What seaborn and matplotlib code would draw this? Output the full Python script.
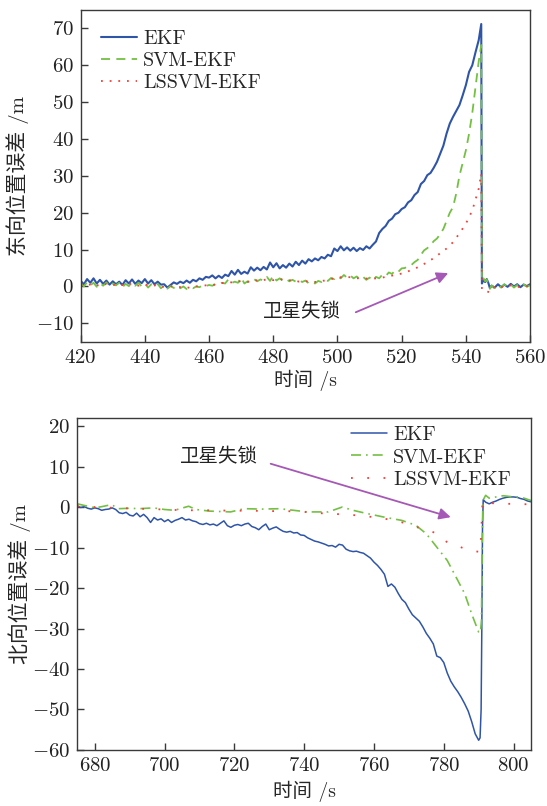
import numpy as np
import pandas as pd
import matplotlib
matplotlib.use("Agg")
import matplotlib.pyplot as plt
import seaborn as sns

# ---------------- East position error (upper panel) ----------------
east_t_pre = list(range(420, 545)) + [544.8]
east_t_post = [545.0, 545.5, 546.0, 546.5, 547.0, 547.5, 548, 549, 550, 551,
               552, 553, 554, 555, 556, 557, 558, 559, 560]

east_ekf_pre = [
    1.5, 0.6, 2.0, 1.0, 2.2, 0.8, 1.8, 0.7, 1.6, 0.5,
    1.4, 0.6, 1.3, 0.4, 1.7, 0.8, 1.9, 0.7, 1.6, 0.9,
    2.0, 0.8, 1.7, 0.6, 1.3, 0.5, 0.6, -0.3, 0.4, 1.1,
    0.7, 1.3, 0.9, 1.6, 1.0, 1.8, 1.4, 2.2, 1.8, 2.6,
    2.4, 3.0, 2.2, 2.9, 2.3, 3.2, 2.8, 4.2, 3.2, 4.5,
    3.4, 4.0, 3.5, 5.2, 4.3, 5.1, 4.4, 5.3, 4.6, 6.5,
    5.2, 6.3, 4.9, 5.8, 5.1, 6.2, 5.4, 6.7, 5.8, 7.0,
    6.2, 7.4, 6.8, 7.6, 7.1, 8.0, 7.6, 8.6, 8.2, 10.3,
    9.6, 10.9, 9.8, 10.6, 9.7, 10.5, 9.6, 10.4, 9.9, 10.9,
    10.3, 11.3, 12.2, 14.5, 15.6, 16.4, 17.8, 18.4, 19.6, 20.0,
    21.0, 21.5, 22.8, 23.4, 24.8, 25.6, 27.8, 28.6, 30.2, 30.8,
    32.2, 33.8, 36.0, 38.2, 41.5, 44.2, 46.0, 47.6, 49.2, 51.8,
    54.6, 58.2, 60.0, 63.5, 66.8, 71.2,
]
east_ekf_post = [0.8, 1.8, 1.2, 2.0, 1.0, -0.5, 0.2, -0.3, 0.6, -0.2,
                 0.5, -0.1, 0.7, 0.0, 0.6, -0.2, 0.5, 0.1, 0.6]

east_svm_pre = [
    0.8, 0.0, 1.2, 0.3, 1.0, -0.1, 0.9, 0.2, 1.1, 0.0,
    0.8, 0.3, 1.0, -0.2, 0.7, 0.1, 0.9, 0.2, 1.0, 0.0,
    0.8, -0.3, 0.6, 0.0, 0.7, -0.5, 0.3, -0.6, 0.1, -0.4,
    0.2, -0.5, 0.0, -0.7, -0.2, -0.5, 0.0, -0.2, 0.3, 0.1,
    0.4, 0.2, 0.6, 0.4, 1.0, 0.8, 1.9, 0.9, 1.3, 1.0,
    2.4, 0.8, 1.4, 1.2, 2.0, 1.4, 1.9, 1.6, 2.6, 1.5,
    2.9, 1.6, 2.2, 1.5, 2.0, 1.4, 1.8, 1.3, 1.8, 1.2,
    1.6, 0.9, 1.3, 0.8, 1.5, 1.2, 1.9, 1.5, 2.3, 2.0,
    2.8, 2.2, 3.1, 2.4, 3.0, 2.2, 2.7, 2.0, 2.6, 1.8,
    2.4, 1.6, 2.6, 2.2, 3.2, 2.8, 3.8, 3.4, 4.4, 4.0,
    4.9, 5.0, 5.6, 5.8, 6.6, 7.2, 8.6, 9.8, 10.4, 11.2,
    12.3, 13.0, 14.2, 15.6, 17.8, 20.0, 21.5, 25.2, 30.0, 33.5,
    36.9, 41.4, 47.0, 54.0, 61.0, 65.5,
]
east_svm_post = [1.5, 2.2, 1.4, 1.9, 0.5, -0.6, 0.3, -0.4, 0.5, -0.3,
                 0.6, -0.2, 0.5, -0.3, 0.4, -0.2, 0.6, -0.1, 0.3]

east_ls_t = list(range(420, 545, 2)) + [544.8, 545.0, 546.0, 547.5, 548,
                                         550, 552, 554, 556, 558, 560]
east_ls = [
    0.6, 0.2, 0.9, 0.0, 0.7, 0.3, 0.8, 0.1, 0.9, 0.2,
    0.6, 0.0, 0.5, -0.2, 0.1, -0.3, 0.0, -0.4, 0.0, 0.2,
    0.4, 0.5, 0.9, 1.2, 1.0, 1.5, 1.2, 1.8, 1.4, 2.0,
    1.7, 2.1, 1.5, 1.8, 1.3, 1.5, 1.0, 1.4, 1.6, 2.0,
    2.4, 2.6, 2.5, 2.2, 2.3, 2.0, 2.2, 2.4, 2.8, 3.1,
    3.5, 4.1, 4.8, 5.6, 6.6, 7.7, 9.0, 10.3, 12.0, 14.4,
    17.0, 20.6, 26.5,
    30.6, -1.0, -1.2, -1.6, -0.5, 0.2, -0.3, 0.3, -0.2, 0.2, 0.0,
]

# ---------------- North position error (lower panel) ----------------
north_t = list(range(675, 791)) + [790.4, 790.7, 790.9, 791.1, 791.3] + \
    list(range(792, 806))
north_ekf = [
    0.2, -0.1, 0.1, -0.3, -0.5, -0.2, -0.4, -0.8, -0.6, -0.5,
    -0.2, -0.6, -1.4, -1.6, -1.3, -2.0, -2.2, -1.5, -2.4, -1.8,
    -2.6, -3.8, -2.6, -3.2, -2.9, -3.6, -3.1, -3.8, -3.3, -3.0,
    -2.6, -3.2, -3.0, -3.4, -3.6, -4.1, -4.3, -4.0, -4.4, -4.2,
    -4.6, -4.0, -3.4, -4.6, -5.0, -4.5, -4.3, -4.6, -4.2, -4.0,
    -4.8, -5.1, -5.6, -4.8, -4.2, -5.6, -5.2, -4.9, -5.5, -6.0,
    -6.2, -6.0, -6.4, -6.3, -6.9, -7.0, -7.6, -8.0, -8.4, -8.6,
    -8.9, -9.2, -9.6, -9.5, -9.9, -9.2, -9.4, -10.4, -10.8, -11.0,
    -10.9, -11.2, -11.4, -12.0, -12.6, -13.6, -14.4, -15.4, -16.6, -19.6,
    -19.0, -19.8, -21.4, -22.8, -23.6, -25.2, -26.6, -27.4, -28.2, -29.6,
    -31.2, -32.4, -33.8, -36.8, -37.2, -38.4, -41.0, -43.0, -44.4, -45.6,
    -47.0, -48.6, -50.4, -53.0, -56.0, -57.6,
    -57.0, -50.0, -30.0, -5.0, 1.8,
    1.2, 0.8, 1.2, 1.5, 1.9, 2.2, 2.4, 2.5, 2.5, 2.4, 2.1, 1.9, 1.5, 1.3,
]

north_svm_t = [675, 678, 680, 682, 684.8, 686.8, 690, 692.8, 696.8, 700,
               702.8, 706.9, 709, 712.9, 716, 718.9, 722.9, 728, 732.9, 737,
               740.9, 746.9, 750.9, 754, 758, 763, 768, 772, 775, 778,
               781, 784, 786, 788, 790, 790.5, 790.8, 791.0, 791.2, 792,
               793, 795, 797, 799, 801, 803, 805]
north_svm = [0.8, 0.2, -0.2, 0.1, 0.6, -0.4, -0.3, -0.4, -0.2, -0.6,
             -0.8, 0.2, -0.6, -1.0, -1.1, -1.2, -0.4, -0.5, -0.4, -0.8,
             -1.2, -1.2, 0.0, -0.8, -1.6, -2.5, -3.3, -4.5, -6.6, -9.9,
             -13.2, -18.1, -21.4, -26.4, -30.9, -31.0, -28.0, -10.0, 1.6, 2.9,
             2.2, 2.5, 2.8, 2.6, 2.5, 2.2, 1.6]

north_ls_t = [675, 680, 686, 692, 697, 702, 708, 713, 720, 725,
              730, 735, 740, 746, 751, 756, 761, 766, 769, 772,
              775, 777, 779, 781, 784, 786, 788, 790.5, 790.8, 791.1,
              793, 795, 797, 800, 802, 805]
north_ls = [0.2, 0.0, -0.2, -0.4, -0.5, -0.7, -0.8, -0.8, -0.9, -0.9,
            -1.0, -1.0, -1.2, -1.6, -1.8, -2.1, -2.6, -3.3, -4.0, -4.9,
            -5.6, -6.2, -7.4, -8.7, -9.6, -10.3, -10.8, -11.1, -5.0, 1.5,
            1.0, 0.9, 0.8, 0.8, 0.7, 0.7]

labels = ["EKF", "SVM-EKF", "LSSVM-EKF"]
east_xticks = [420, 440, 460, 480, 500, 520, 540, 560]
east_yticks = [-10, 0, 10, 20, 30, 40, 50, 60, 70]
north_xticks = [680, 700, 720, 740, 760, 780, 800]
north_yticks = [-60, -50, -40, -30, -20, -10, 0, 10, 20]

# ---------------- styling ----------------
sns.set_theme(style="ticks")
plt.rcParams["font.family"] = ["cmr10", "Noto Sans CJK SC", "DejaVu Sans"]
plt.rcParams["mathtext.fontset"] = "cm"
plt.rcParams["axes.formatter.use_mathtext"] = True
plt.rcParams["axes.unicode_minus"] = True

BLUE = "#2f55a8"
GREEN = "#74c043"
RED = "#f0403a"
PURPLE = "#a558b5"
SPINE = "#3a3a3a"

fig = plt.figure(figsize=(5.47, 8.06), dpi=100)
ax1 = fig.add_axes([0.1475, 0.5760, 0.8215, 0.4116])
ax2 = fig.add_axes([0.1413, 0.0695, 0.8295, 0.4119])


def frame(ax):
    for s in ax.spines.values():
        s.set_color(SPINE)
        s.set_linewidth(1.0)
    ax.tick_params(direction="in", length=5, width=1.0, colors=SPINE,
                   labelsize=15, labelcolor="#222222", pad=5)


# upper panel
e_ekf = pd.DataFrame({"t": east_t_pre + east_t_post,
                      "v": east_ekf_pre + east_ekf_post})
e_svm = pd.DataFrame({"t": east_t_pre + east_t_post,
                      "v": east_svm_pre + east_svm_post})
e_ls = pd.DataFrame({"t": east_ls_t, "v": east_ls})

sns.lineplot(data=e_ekf, x="t", y="v", ax=ax1, color=BLUE, lw=1.5,
             label=labels[0], estimator=None, sort=False)
sns.lineplot(data=e_svm, x="t", y="v", ax=ax1, color=GREEN, lw=1.3,
             linestyle=(0, (5, 3.5)), label=labels[1], estimator=None,
             sort=False)
sns.lineplot(data=e_ls, x="t", y="v", ax=ax1, color=RED, lw=1.3,
             linestyle=(0, (1, 3.8)), label=labels[2], estimator=None,
             sort=False)

ax1.set_xlim(420, 560)
ax1.set_ylim(-15, 75)
ax1.set_xticks(east_xticks)
ax1.set_yticks(east_yticks)
ax1.set_xlabel("时间 /s", fontsize=14, labelpad=2)
ax1.set_ylabel("东向位置误差 /m", fontsize=15, labelpad=5)
frame(ax1)
ax1.legend(loc="upper left", bbox_to_anchor=(0.045, 0.94), frameon=False,
           fontsize=14.5, handlelength=1.8, handletextpad=0.3,
           labelspacing=0.2, borderpad=0, borderaxespad=0)
ax1.annotate("", xy=(534.5, 3.6), xytext=(505.7, -7.0),
             arrowprops=dict(arrowstyle="-|>", color=PURPLE, lw=1.3,
                             mutation_scale=17, shrinkA=0, shrinkB=0))
ax1.text(489, -7.0, "卫星失锁", fontsize=14, ha="center", va="center",
         color="#222222")

# lower panel
n_ekf = pd.DataFrame({"t": north_t, "v": north_ekf})
n_svm = pd.DataFrame({"t": north_svm_t, "v": north_svm})
n_ls = pd.DataFrame({"t": north_ls_t, "v": north_ls})

sns.lineplot(data=n_ekf, x="t", y="v", ax=ax2, color=BLUE, lw=1.1,
             label=labels[0], estimator=None, sort=False)
sns.lineplot(data=n_svm, x="t", y="v", ax=ax2, color=GREEN, lw=1.2,
             linestyle=(0, (6, 3, 1, 3)), label=labels[1], estimator=None,
             sort=False)
sns.lineplot(data=n_ls, x="t", y="v", ax=ax2, color=RED, lw=1.3,
             linestyle=(0, (1, 8)), label=labels[2], estimator=None,
             sort=False)

ax2.set_xlim(675, 805)
ax2.set_ylim(-60, 22)
ax2.set_xticks(north_xticks)
ax2.set_yticks(north_yticks)
ax2.set_xlabel("时间 /s", fontsize=14, labelpad=4)
ax2.set_ylabel("北向位置误差 /m", fontsize=15, labelpad=1)
frame(ax2)
ax2.legend(loc="upper left", bbox_to_anchor=(0.603, 0.975), frameon=False,
           fontsize=14.5, handlelength=1.8, handletextpad=0.3,
           labelspacing=0.2, borderpad=0, borderaxespad=0)
ax2.annotate("", xy=(782, -2.5), xytext=(730.4, 10.7),
             arrowprops=dict(arrowstyle="-|>", color=PURPLE, lw=1.3,
                             mutation_scale=17, shrinkA=0, shrinkB=0))
ax2.text(715.6, 12.4, "卫星失锁", fontsize=14, ha="center", va="center",
         color="#222222")

fig.savefig("out.png", dpi=100)
